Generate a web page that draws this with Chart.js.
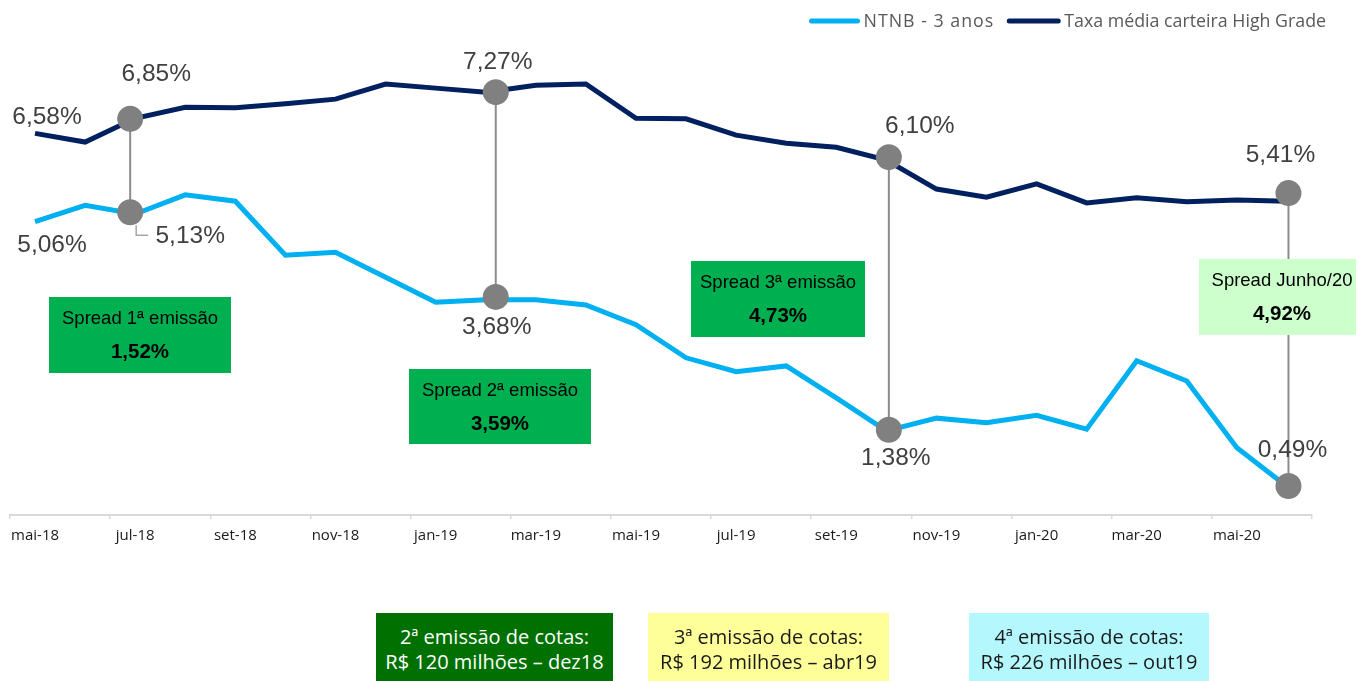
<!DOCTYPE html>
<html>
<head>
<meta charset="utf-8">
<script src="https://cdn.jsdelivr.net/npm/chart.js@4.4.1/dist/chart.umd.min.js"></script>
<style>
html,body{margin:0;padding:0;background:#fff;}
#wrap{position:relative;width:1356px;height:681px;overflow:hidden;}
canvas{position:absolute;left:0;top:0;}
.note{position:absolute;top:613px;height:68px;box-sizing:border-box;padding-top:3px;font-family:"Open Sans",sans-serif;font-size:20px;line-height:25px;text-align:center;display:flex;flex-direction:column;justify-content:center;white-space:nowrap;}
</style>
</head>
<body>
<div id="wrap"><canvas id="c" width="1356" height="681"></canvas></div>
<script>
// ---------- data ----------
const months = ["mai-18","jun-18","jul-18","ago-18","set-18","out-18","nov-18","dez-18","jan-19","fev-19","mar-19","abr-19","mai-19","jun-19","jul-19","ago-19","set-19","out-19","nov-19","dez-19","jan-20","fev-20","mar-20","abr-20","mai-20","jun-20"];
const ntnb = [5.06,5.34,5.19,5.52,5.41,4.48,4.53,4.10,3.67,3.71,3.71,3.62,3.28,2.71,2.47,2.57,2.02,1.45,1.67,1.59,1.72,1.48,2.66,2.31,1.16,0.49];
const highGrade = [6.58,6.43,6.84,7.03,7.02,7.09,7.17,7.43,7.36,7.29,7.41,7.43,6.84,6.83,6.55,6.41,6.34,6.12,5.62,5.48,5.71,5.38,5.47,5.40,5.43,5.41];
const seriesNames = ["NTNB - 3 anos","Taxa média carteira High Grade"];

// spread markers (x in month index units)
const spreadX = [1.9, 9.2, 17.05, 25.03];
const spreadTop = [6.83, 7.29, 6.17, 5.55];
const spreadBottom = [5.22, 3.76, 1.47, 0.50];
const spreadTopLabels = ["6,85%","7,27%","6,10%","5,41%"];
const spreadBottomLabels = ["5,13%","3,68%","1,38%","0,49%"];
const spreadTitles = ["Spread 1ª emissão","Spread 2ª emissão","Spread 3ª emissão","Spread Junho/20"];
const spreadValues = ["1,52%","3,59%","4,73%","4,92%"];
const startLabels = ["6,58%","5,06%"];

const issuanceLines1 = ["2ª emissão de cotas:","3ª emissão de cotas:","4ª emissão de cotas:"];
const issuanceLines2 = ["R$ 120 milhões – dez18","R$ 192 milhões – abr19","R$ 226 milhões – out19"];

// ---------- styles / layout ----------
const C_LIGHT = '#00b0f0', C_DARK = '#002060', C_GRAY = '#808080';
const PLOT_LEFT = 10;
const noteStyles = [
  {left:376, width:237, bg:'#007000', color:'#ffffff'},
  {left:648, width:241, bg:'#ffff99', color:'#1a1a1a'},
  {left:969, width:240, bg:'#b4f7fc', color:'#1a1a1a'}
];
const boxStyles = [
  {x:49, y:297, w:182, h:76, fill:'#00b050', cx:140},
  {x:409, y:369, w:182, h:75, fill:'#00b050', cx:500},
  {x:691, y:261, w:174, h:76, fill:'#00b050', cx:778},
  {x:1199, y:259, w:170, h:76, fill:'#ccffcc', cx:1282}
];
const topOff = [[26,-45],[2,-30],[31,-31],[-8,-38]];
const botOff = [[60,24],[1,30],[7,29],[4,-36]];

const wrap = document.getElementById('wrap');
noteStyles.forEach((s,i)=>{
  const d = document.createElement('div');
  d.className = 'note';
  d.style.left = s.left+'px'; d.style.width = s.width+'px';
  d.style.background = s.bg; d.style.color = s.color;
  d.innerHTML = '<div>'+issuanceLines1[i]+'</div><div>'+issuanceLines2[i]+'</div>';
  wrap.appendChild(d);
});

const fixLeft = {
  id:'fixLeft',
  afterLayout(chart){
    const ca = chart.chartArea;
    ca.left = PLOT_LEFT; ca.width = ca.right - PLOT_LEFT;
    ['x','x2'].forEach(id=>{
      const s = chart.scales[id];
      s.left = PLOT_LEFT; s.width = s.right - PLOT_LEFT; s.configure();
    });
  }
};

const annot = {
  id:'annot',
  afterDatasetsDraw(chart){
    const ctx = chart.ctx, xs = chart.scales.x, x2 = chart.scales.x2, ys = chart.scales.y;
    ctx.save();
    // leader line for first bottom label
    const m1x = x2.getPixelForValue(spreadX[0]), m1y = ys.getPixelForValue(spreadBottom[0]);
    ctx.strokeStyle = '#a6a6a6'; ctx.lineWidth = 1.5;
    ctx.beginPath(); ctx.moveTo(m1x+6, m1y+13); ctx.lineTo(m1x+6, m1y+23); ctx.lineTo(m1x+18, m1y+23); ctx.stroke();

    // value labels
    ctx.font = '24.5px "Liberation Sans", Arial, sans-serif';
    ctx.fillStyle = '#404040'; ctx.textAlign = 'center'; ctx.textBaseline = 'middle';
    ctx.fillText(startLabels[0], xs.getPixelForValue(0)+12, ys.getPixelForValue(highGrade[0])-16);
    ctx.fillText(startLabels[1], xs.getPixelForValue(0)+17, ys.getPixelForValue(ntnb[0])+24);
    for(let i=0;i<spreadX.length;i++){
      const px = x2.getPixelForValue(spreadX[i]);
      ctx.fillText(spreadTopLabels[i], px+topOff[i][0], ys.getPixelForValue(spreadTop[i])+topOff[i][1]);
      ctx.fillText(spreadBottomLabels[i], px+botOff[i][0], ys.getPixelForValue(spreadBottom[i])+botOff[i][1]);
    }
    // spread boxes
    boxStyles.forEach((b,i)=>{
      ctx.fillStyle = b.fill; ctx.fillRect(b.x,b.y,b.w,b.h);
      ctx.fillStyle = '#000';
      ctx.font = '18.5px "Liberation Sans", Arial, sans-serif';
      ctx.fillText(spreadTitles[i], b.cx, b.y+22);
      ctx.font = 'bold 20.5px "Liberation Sans", Arial, sans-serif';
      ctx.fillText(spreadValues[i], b.cx, b.y+55);
    });
    // legend
    ctx.font = '17.8px "Open Sans", sans-serif';
    ctx.textAlign = 'left';
    const w2 = ctx.measureText(seriesNames[1]).width;
    const t2 = 1326 - w2, l2e = t2 - 3, l2s = l2e - 55;
    const ly = 21;
    ctx.lineCap = 'round'; ctx.lineWidth = 5;
    ctx.strokeStyle = C_DARK; ctx.beginPath(); ctx.moveTo(l2s+3,ly); ctx.lineTo(l2e-3,ly); ctx.stroke();
    ctx.fillStyle = '#595959';
    ctx.fillText(seriesNames[1], t2, ly+1);
    ctx.letterSpacing = '1px';
    const w1 = ctx.measureText(seriesNames[0]).width;
    const t1 = l2s - 12 - w1, l1e = t1 - 3, l1s = l1e - 52;
    ctx.fillText(seriesNames[0], t1, ly+1);
    ctx.strokeStyle = C_LIGHT; ctx.beginPath(); ctx.moveTo(l1s+3,ly); ctx.lineTo(l1e-3,ly); ctx.stroke();
    ctx.restore();
  }
};

const datasets = [
  {label:seriesNames[0], data:ntnb, borderColor:C_LIGHT, borderWidth:5, pointRadius:0, tension:0, order:3, xAxisID:'x', yAxisID:'y'},
  {label:seriesNames[1], data:highGrade, borderColor:C_DARK, borderWidth:5, pointRadius:0, tension:0, order:3, xAxisID:'x', yAxisID:'y'}
];
spreadX.forEach((sx,i)=>{
  datasets.push({label:'conn'+i, data:[{x:sx,y:spreadTop[i]},{x:sx,y:spreadBottom[i]}], borderColor:'#8c8c8c', borderWidth:2, pointRadius:0, order:2, xAxisID:'x2', yAxisID:'y'});
});
datasets.push({label:'markers', data: spreadX.map((sx,i)=>({x:sx,y:spreadTop[i]})).concat(spreadX.map((sx,i)=>({x:sx,y:spreadBottom[i]}))),
  showLine:false, pointRadius:13, pointBackgroundColor:C_GRAY, pointBorderWidth:0, pointBorderColor:C_GRAY, order:1, xAxisID:'x2', yAxisID:'y'});

new Chart(document.getElementById('c'), {
  type:'line',
  data:{labels:months, datasets},
  options:{
    responsive:false, animation:false, events:[],
    layout:{padding:{top:51,left:9,right:44,bottom:0}},
    plugins:{legend:{display:false}, tooltip:{enabled:false}},
    scales:{
      x:{type:'category', offset:true,
        grid:{offset:true, drawOnChartArea:false, tickLength:4, lineWidth:1.5,
          color:c => (c.index === undefined || c.index % 2 === 0) ? '#d9d9d9' : 'rgba(0,0,0,0)'},
        border:{display:true, color:'#d9d9d9', width:2},
        ticks:{autoSkip:false, maxRotation:0, minRotation:0, padding:8, color:'#1a1a1a',
          font:{family:'"Open Sans"', size:15},
          callback:(v,i)=> i%2===0 ? months[i] : ''},
        afterFit:s=>{ s.height = 166; }
      },
      x2:{type:'linear', display:false, min:-0.5, max:25.5},
      y:{display:false, min:0, max:8}
    }
  },
  plugins:[fixLeft, annot]
});
</script>
</body>
</html>
